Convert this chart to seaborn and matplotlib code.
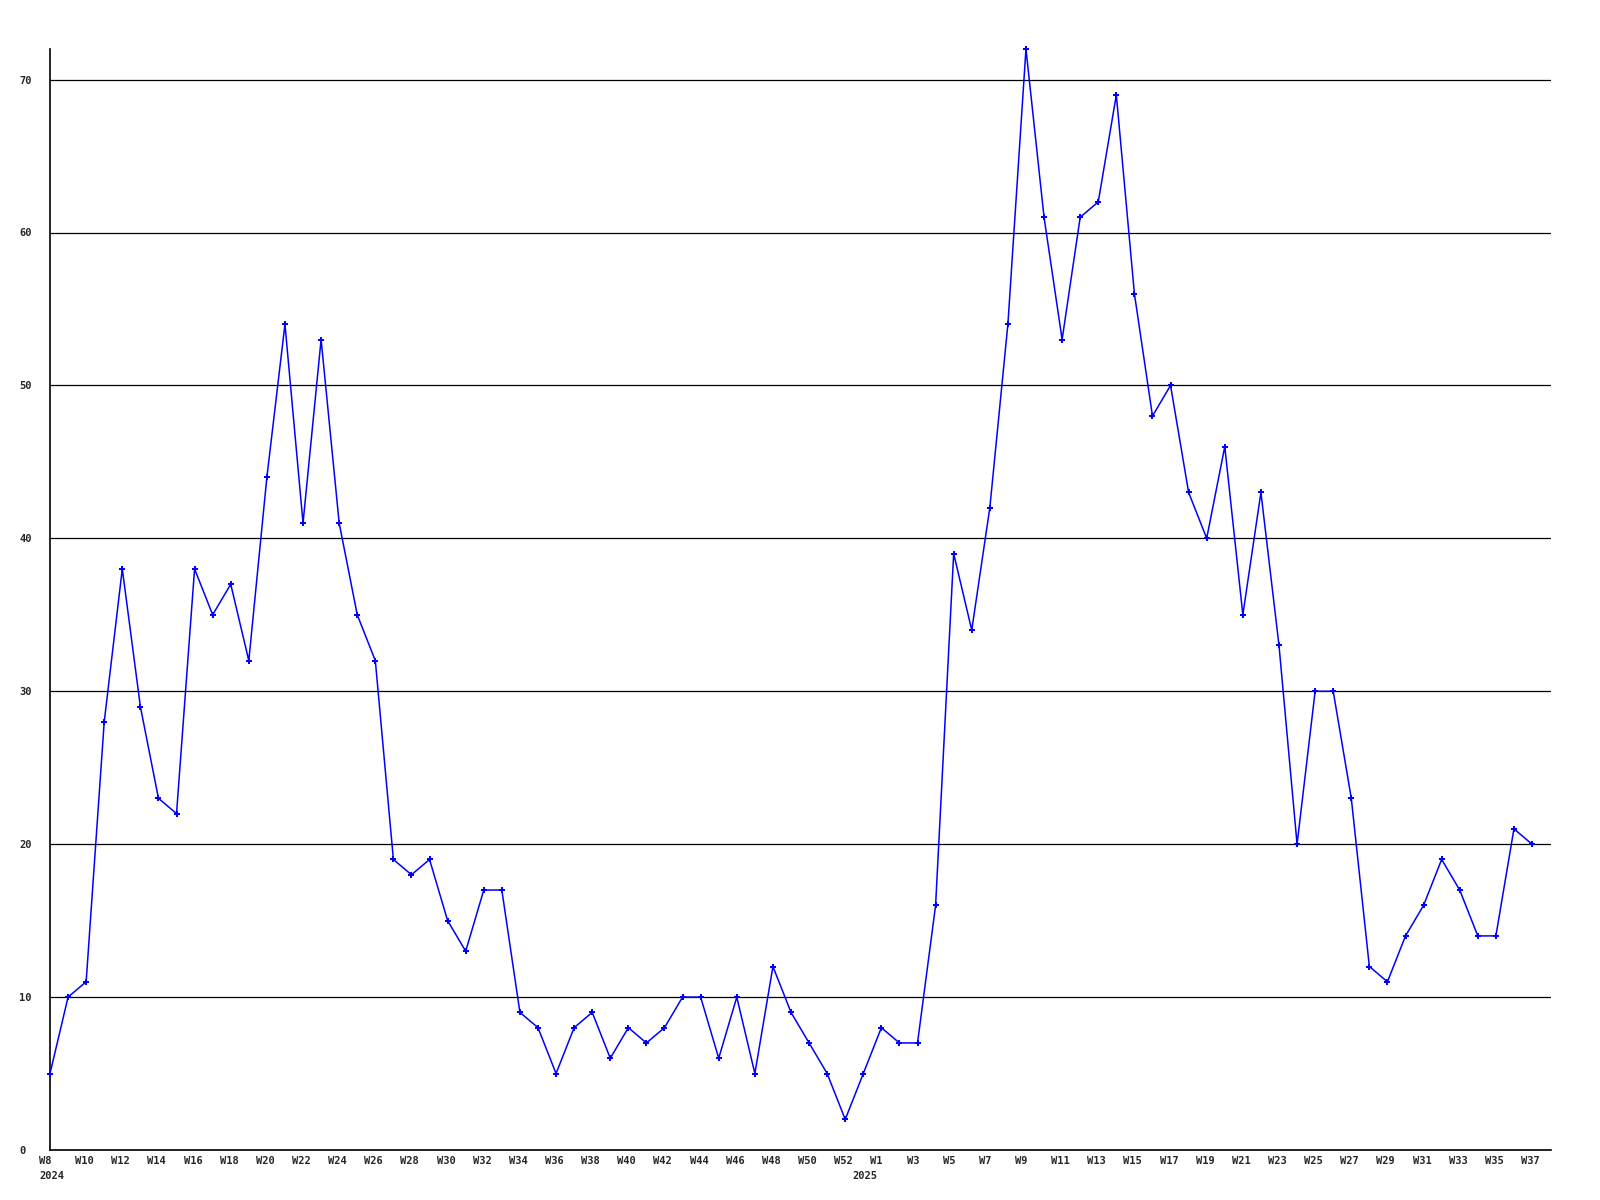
import pandas as pd
import seaborn as sns
import matplotlib.pyplot as plt
from matplotlib.transforms import ScaledTranslation

# week numbers per year (2024 has a W53 bucket in this data)
weeks_2024 = list(range(8, 54))
weeks_2025 = list(range(1, 38))

counts_2024 = [5, 10, 11, 28, 38, 29, 23, 22, 38, 35, 37, 32, 44, 54, 41, 53,
               41, 35, 32, 19, 18, 19, 15, 13, 17, 17, 9, 8, 5, 8, 9, 6,
               8, 7, 8, 10, 10, 6, 10, 5, 12, 9, 7, 5, 2, 5]
counts_2025 = [8, 7, 7, 16, 39, 34, 42, 54, 72, 61, 53, 61, 62, 69, 56, 48,
               50, 43, 40, 46, 35, 43, 33, 20, 30, 30, 23, 12, 11, 14, 16, 19,
               17, 14, 14, 21, 20]

y_ticks = [0, 10, 20, 30, 40, 50, 60, 70]

# Tabla con una fila por semana
df = pd.DataFrame({
    'year': [2024] * len(weeks_2024) + [2025] * len(weeks_2025),
    'week': weeks_2024 + weeks_2025,
    'count': counts_2024 + counts_2025,
})
df['pos'] = range(len(df))

sns.set_style('white')
plt.rcParams['font.family'] = ['DejaVu Sans Mono']

fig = plt.figure(figsize=(16, 12), dpi=100)
ax = fig.add_axes([50 / 1600, 1 - 1150 / 1200, 1501 / 1600, 1101 / 1200])

sns.lineplot(data=df, x='pos', y='count', ax=ax, color='#0000ff', linewidth=1.1,
             marker='P', markersize=4, markeredgewidth=0, clip_on=False, zorder=3)

ax.set_xlim(0, len(df) - 1 + 1.05)
ax.set_ylim(0, 72)
ax.set_yticks(y_ticks)
ax.set_yticklabels([str(v) for v in y_ticks])

tick_pos = list(df['pos'][::2])
ax.set_xticks(tick_pos)
ax.set_xticklabels([f"W{df.loc[i, 'week']}" for i in tick_pos])

ax.yaxis.grid(True, color='black', linewidth=0.9)
ax.xaxis.grid(False)
ax.set_axisbelow(True)

for side in ['top', 'right']:
    ax.spines[side].set_visible(False)
for side in ['left', 'bottom']:
    ax.spines[side].set_color('black')
    ax.spines[side].set_linewidth(1.2)

ax.tick_params(axis='x', length=0, pad=4, labelsize=7.5)
ax.tick_params(axis='y', length=0, pad=22, labelsize=7.5)
for t in ax.get_yticklabels():
    t.set_horizontalalignment('left')
shift = ScaledTranslation(-11 / 100, 0, fig.dpi_scale_trans)
for t in ax.get_xticklabels():
    t.set_horizontalalignment('left')
    t.set_transform(t.get_transform() + shift)
for t in ax.get_xticklabels() + ax.get_yticklabels():
    t.set_fontweight('bold')

# etiquetas de año donde cambia el año
year_start = [0] + [i for i in range(1, len(df)) if df.loc[i, 'week'] < df.loc[i - 1, 'week']]
year_start[-1] -= 1  # 2025 label sits at the W53 bucket in the original
for i, yr in zip(year_start, [2024, 2025]):
    ax.annotate(str(yr), xy=(i, 0), xycoords=('data', 'axes fraction'),
                xytext=(-11, -26), textcoords='offset pixels',
                ha='left', va='center', fontsize=7.5, fontweight='bold',
                annotation_clip=False)

ax.set_xlabel('')
ax.set_ylabel('')

plt.savefig('out.png', dpi=100)
plt.close()
